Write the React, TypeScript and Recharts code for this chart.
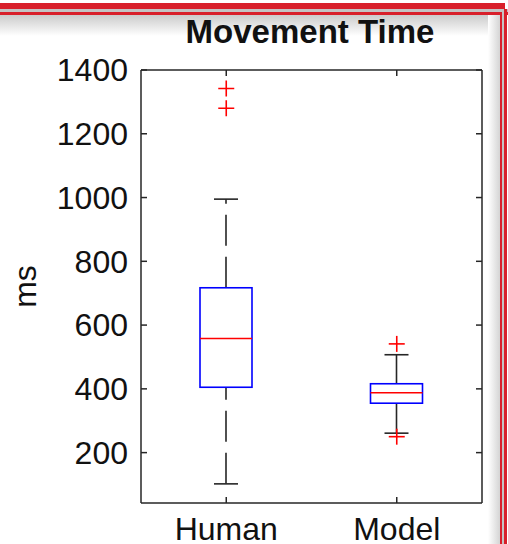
import React from 'react';
import { ComposedChart, Bar, Scatter, XAxis, YAxis } from 'recharts';

// box plot stats (ms)
const categories = ['Human', 'Model'];
const whiskerLow = [102, 261];
const quartile1 = [405, 355];
const medians = [558, 388];
const quartile3 = [717, 416];
const whiskerHigh = [995, 507];
const outlierCats = ['Human', 'Human', 'Model', 'Model'];
const outlierValues = [1342, 1280, 541, 250];
const yTicks = [200, 400, 600, 800, 1000, 1200, 1400];

const boxData = categories.map((name, i) => ({
  name,
  lo: whiskerLow[i],
  q1: quartile1[i],
  med: medians[i],
  q3: quartile3[i],
  hi: whiskerHigh[i],
}));

const outlierData = outlierCats.map((name, i) => ({ name, value: outlierValues[i] }));

const FONT = '"Liberation Sans", Arial, Helvetica, sans-serif';
const AXIS = '#262626';
const RED = '#d8202b';

const BoxShape = (props: any) => {
  const { x, y, width, height, payload } = props;
  if (!payload) return null;
  const top = Math.min(y, y + height);
  const bottom = Math.max(y, y + height);
  const { lo, q1, med, q3, hi } = payload;
  // map a value inside the bar using the bar's own scaled extent
  const px = (v: number) => top + ((hi - v) / (hi - lo)) * (bottom - top);
  const cx = x + width / 2;
  const cap = 12;
  return (
    <g>
      <line x1={cx} x2={cx} y1={px(lo)} y2={px(q1)} stroke={AXIS} strokeWidth={1.6} strokeDasharray="31 11" />
      <line x1={cx} x2={cx} y1={px(q3)} y2={px(hi)} stroke={AXIS} strokeWidth={1.6} strokeDasharray="31 11" />
      <line x1={cx - cap} x2={cx + cap} y1={px(lo)} y2={px(lo)} stroke={AXIS} strokeWidth={1.6} />
      <line x1={cx - cap} x2={cx + cap} y1={px(hi)} y2={px(hi)} stroke={AXIS} strokeWidth={1.6} />
      <rect x={x} y={px(q3)} width={width} height={px(q1) - px(q3)} fill="none" stroke="#0000ff" strokeWidth={1.6} />
      <line x1={x} x2={x + width} y1={px(med)} y2={px(med)} stroke="#ff0000" strokeWidth={1.6} />
    </g>
  );
};

const Plus = (props: any) => {
  const { cx, cy } = props;
  return (
    <g>
      <line x1={cx - 8} x2={cx + 8} y1={cy} y2={cy} stroke="#ff0000" strokeWidth={1.6} />
      <line x1={cx} x2={cx} y1={cy - 8} y2={cy + 8} stroke="#ff0000" strokeWidth={1.6} />
    </g>
  );
};

const tickStyle = { fontSize: 32, fill: '#111', fontFamily: FONT };
const blank = () => '';

export default function App() {
  return (
    <div style={{ position: 'absolute', top: 0, left: 0, width: 508, height: 544, background: '#fff', overflow: 'hidden', fontFamily: FONT }}>
      {/* window frame around the screenshot */}
      <div style={{ position: 'absolute', top: 14, left: 0, width: 500, height: 22, background: 'linear-gradient(#c9c9c9, #ffffff)' }} />
      <div style={{ position: 'absolute', top: 14, left: 488, width: 12, height: 530, background: 'linear-gradient(90deg, #ffffff, #d4d4d4)' }} />
      <div style={{ position: 'absolute', top: 3, left: 0, width: 505, height: 6, background: RED }} />
      <div style={{ position: 'absolute', top: 9, left: 0, width: 508, height: 3, background: '#c4c4c4' }} />
      <div style={{ position: 'absolute', top: 12, left: 0, width: 508, height: 3, background: RED }} />
      <div style={{ position: 'absolute', top: 12, left: 500, width: 2, height: 532, background: RED }} />
      <div style={{ position: 'absolute', top: 12, left: 502, width: 2, height: 532, background: '#c4c4c4' }} />
      <div style={{ position: 'absolute', top: 9, left: 504, width: 3, height: 535, background: RED }} />

      <div style={{ position: 'absolute', top: 14, left: 160, width: 300, textAlign: 'center', fontSize: 33, fontWeight: 'bold', color: '#111', lineHeight: '36px' }}>
        Movement Time
      </div>

      <div style={{ position: 'absolute', top: 0, left: 0 }}>
        <ComposedChart width={508} height={544} data={boxData} margin={{ top: 69, right: 25, bottom: 0, left: 0 }}>
          <XAxis
            dataKey="name"
            allowDuplicatedCategory={false}
            height={41}
            tick={tickStyle}
            tickSize={-6}
            tickMargin={20}
            stroke={AXIS}
            strokeWidth={1.5}
          />
          <XAxis
            xAxisId="top"
            orientation="top"
            dataKey="name"
            allowDuplicatedCategory={false}
            height={1}
            tickFormatter={blank}
            tickSize={-6}
            stroke={AXIS}
            strokeWidth={1.5}
          />
          <YAxis
            type="number"
            domain={[42, 1400]}
            ticks={yTicks}
            allowDataOverflow
            width={141}
            tick={tickStyle}
            tickSize={-6}
            tickMargin={19}
            stroke={AXIS}
            strokeWidth={1.5}
            label={({ viewBox }: any) => (
              <text
                x={viewBox.x + 25}
                y={viewBox.y + viewBox.height / 2}
                transform={`rotate(-90 ${viewBox.x + 25} ${viewBox.y + viewBox.height / 2})`}
                textAnchor="middle"
                dominantBaseline="central"
                fontSize={32}
                fontFamily={FONT}
                fill="#111"
              >
                ms
              </text>
            )}
          />
          <YAxis
            yAxisId="right"
            orientation="right"
            type="number"
            domain={[42, 1400]}
            ticks={yTicks}
            allowDataOverflow
            width={1}
            tickFormatter={blank}
            tickSize={-6}
            stroke={AXIS}
            strokeWidth={1.5}
          />
          <Bar dataKey={(d: any) => [d.lo, d.hi]} barSize={52} shape={BoxShape} isAnimationActive={false} />
          <Scatter data={outlierData} dataKey="value" shape={Plus} isAnimationActive={false} />
        </ComposedChart>
      </div>
    </div>
  );
}
